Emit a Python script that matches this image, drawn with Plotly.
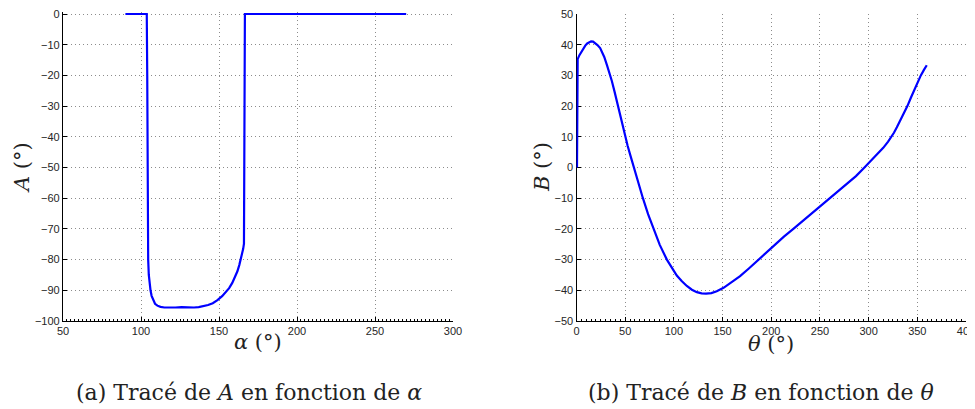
import plotly.graph_objects as go

# --- Data ---
alpha_deg = [90, 103.7, 104.0, 104.2, 104.4, 104.6, 105.0, 105.5, 106.1, 106.8, 107.8,
             109.0, 110.5, 112.5, 115, 118, 122, 126, 130, 134, 137, 140, 143, 146,
             149, 152, 154.5, 156.5, 158.5, 160.3, 161.8, 163, 164, 164.8, 165.5,
             166.0, 166.2, 166.4, 166.6, 270]
A_deg = [0, 0, -20, -50, -70, -80, -85, -88, -90, -91.8, -93.3,
         -94.4, -95.0, -95.4, -95.6, -95.7, -95.6, -95.5, -95.6, -95.6, -95.5, -95.2,
         -94.8, -94.2, -93.2, -91.9, -90.6, -89.3, -87.6, -85.8, -83.8, -81.8, -80.0,
         -78.3, -76.5, -74.8, -60, -30, 0, 0]

theta_deg = [0.5, 0.6, 0.8, 1.2, 3, 5, 7, 9, 11, 13, 15, 17, 19, 21.5, 24.3, 26.5,
             28.5, 31.2, 33.8, 36.3, 39, 41.5, 44.9, 47.5, 50, 52.5, 55.1, 58.9, 61.3,
             65.4, 68.2, 73.5, 79, 85.5, 92.8, 98, 103, 108, 113.3, 118.5, 123.6, 128.5,
             133, 138.5, 144, 151, 157.7, 163, 168, 177, 187, 195, 204, 213, 222.7, 231,
             240, 249, 258, 268, 277.6, 287, 295.7, 305, 310, 315, 320, 323, 326, 329,
             332, 336, 339.8, 343.5, 347, 350.5, 353.6, 356.8, 359.7]
B_deg = [0, 12, 25, 35.3, 36.6, 37.8, 38.8, 39.7, 40.4, 40.9, 41.1, 41.0, 40.6, 39.9,
         38.9, 37.6, 36.0, 33.4, 31.0, 28.2, 24.8, 21.4, 16.6, 13.2, 10.0, 7.1, 4.2,
         0, -2.7, -7.2, -10, -15.2, -20, -25.2, -30, -32.9, -35.2, -37.0, -38.6,
         -39.8, -40.6, -41.0, -41.1, -40.9, -40.3, -39.2, -37.8, -36.6, -35.4, -32.9,
         -30, -27.7, -25.1, -22.5, -20, -17.8, -15.4, -13.0, -10.6, -8.1, -5.5, -2.8,
         0, 3.0, 4.6, 6.4, 8.4, 9.8, 11.3, 13.1, 15.0, 17.6, 20.0, 22.8, 25.5, 28.2,
         30.0, 31.8, 33.3]

x1_ticks = [50, 100, 150, 200, 250, 300]
y1_ticks = [0, -10, -20, -30, -40, -50, -60, -70, -80, -90, -100]
x2_ticks = [0, 50, 100, 150, 200, 250, 300, 350, 400]
y2_ticks = [50, 40, 30, 20, 10, 0, -10, -20, -30, -40, -50]

# The page has an 8px body margin: the figure starts at (8, 8) in the window.
OFF = 8
W, H = 975 - OFF, 409 - OFF
BLUE = "#0000FF"
GRID = "#8c8c8c"
TICKFONT = dict(family="Liberation Sans, Arial, sans-serif", size=11, color="#262626")
SERIF = "DejaVu Serif, Liberation Serif, serif"

def fx(px):  # window pixel x -> paper fraction
    return (px - OFF) / W

def fy(py):  # window pixel y -> paper fraction
    return 1 - (py - OFF) / H

fig = go.Figure()
fig.add_trace(go.Scatter(x=alpha_deg, y=A_deg, mode="lines",
                         line=dict(color=BLUE, width=2.2),
                         xaxis="x", yaxis="y", showlegend=False))
fig.add_trace(go.Scatter(x=theta_deg, y=B_deg, mode="lines",
                         line=dict(color=BLUE, width=2.2),
                         xaxis="x2", yaxis="y2", showlegend=False))

# plot area: top at y=14 px, bottom at y=321 px (window pixels)
y_top_px, y_bot_px = 14, 321
pad1 = 0.8  # extra data units above 0 on left plot so the line at 0 is not clipped
px_per_unit1 = (y_bot_px - y_top_px) / 100.0
ydom1 = [fy(y_bot_px), fy(y_top_px - pad1 * px_per_unit1)]
ydom2 = [fy(y_bot_px), fy(y_top_px)]

common = dict(showgrid=True, gridcolor=GRID, griddash="1px,3px", gridwidth=1,
              showline=True, linecolor="black", linewidth=1.2, mirror=False,
              ticks="inside", ticklen=4, tickcolor="black", tickwidth=1,
              zeroline=False, tickfont=TICKFONT, layer="below traces",
              automargin=False, ticklabeloverflow="allow")

fig.update_layout(
    template="none",
    width=W, height=H,
    margin=dict(l=0, r=0, t=0, b=0, pad=0),
    paper_bgcolor="white", plot_bgcolor="white",
    xaxis=dict(domain=[fx(63), fx(453)], range=[50, 300], tickvals=x1_ticks,
               anchor="y", minor=dict(ticks="inside", ticklen=2, dtick=2.5,
                                      tickcolor="black", showgrid=False), **common),
    yaxis=dict(domain=ydom1, range=[-100, pad1], tickvals=y1_ticks, anchor="x", **common),
    xaxis2=dict(domain=[fx(576.5), fx(966)], range=[0, 400], tickvals=x2_ticks,
                anchor="y2", minor=dict(ticks="inside", ticklen=2, dtick=5,
                                        tickcolor="black", showgrid=False), **common),
    yaxis2=dict(domain=ydom2, range=[-50, 50], tickvals=y2_ticks, anchor="x2", **common),
)

def ann(text, x, y, size, angle=0):
    fig.add_annotation(text=text, x=fx(x), y=fy(y), xref="paper", yref="paper",
                       showarrow=False, textangle=angle, xanchor="center", yanchor="middle",
                       font=dict(family=SERIF, size=size, color="#222"))

ann("<i>α</i> (°)", 258, 342, 21)
ann("<i>θ</i> (°)", 771, 344, 21)
ann("<i>A</i> (°)", 22, 168, 21, -90)
ann("<i>B</i> (°)", 542, 167, 21, -90)
ann("(a) Tracé de <i>A</i> en fonction de <i>α</i>", 249, 392, 22)
ann("(b) Tracé de <i>B</i> en fonction de <i>θ</i>", 761, 392, 22)

fig.write_html("out.html")
